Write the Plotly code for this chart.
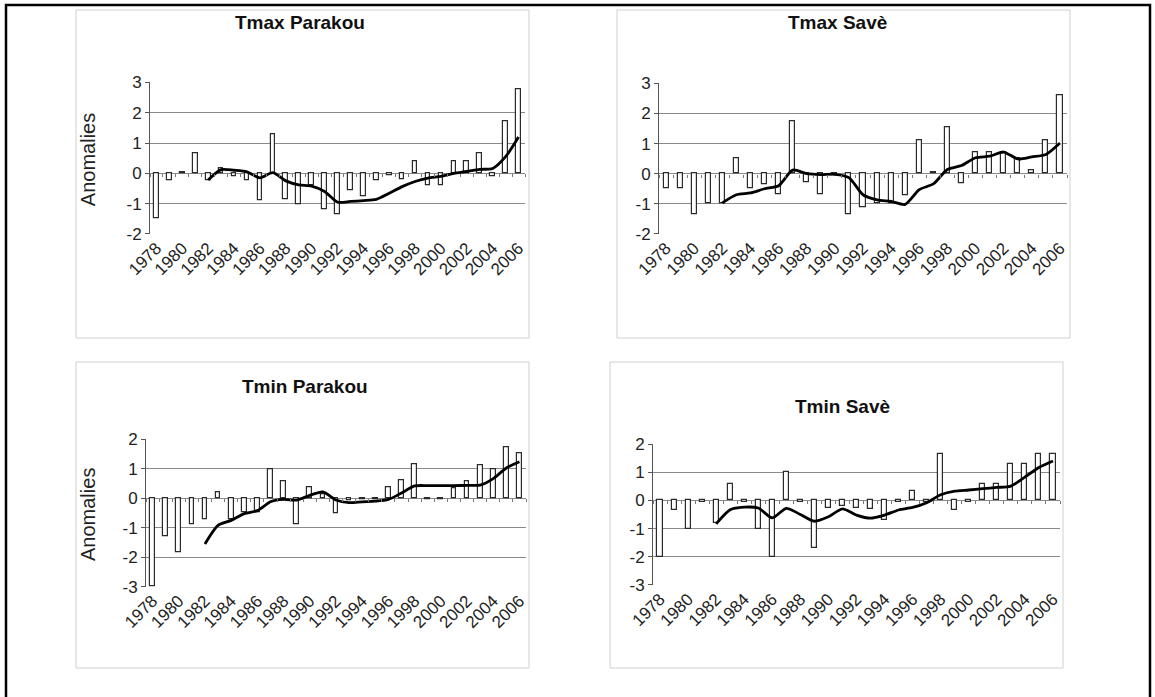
import plotly.graph_objects as go

W, H = 1155, 697

years = list(range(1978, 2007))
ma_years = list(range(1982, 2007))
tick_years = list(range(1978, 2007, 2))
tick_labels = [str(y) for y in tick_years]

tmax_parakou = [-1.48, -0.24, 0.03, 0.66, -0.24, 0.16, -0.11, -0.24, -0.88, 1.3,
                -0.86, -1.01, -0.38, -1.2, -1.34, -0.55, -0.75, -0.22, -0.05, -0.2,
                0.4, -0.38, -0.38, 0.38, 0.38, 0.67, -0.09, 1.73, 2.78]
tmax_parakou_ma = [-0.22, 0.12, 0.1, 0.05, -0.15, 0.02, -0.25, -0.38, -0.42, -0.6,
                   -0.95, -0.93, -0.9, -0.86, -0.66, -0.44, -0.27, -0.16, -0.1, 0.0,
                   0.06, 0.13, 0.16, 0.55, 1.2]

tmax_save = [-0.5, -0.5, -1.35, -1.0, -1.0, 0.5, -0.47, -0.35, -0.7, 1.75,
             -0.3, -0.7, -0.05, -1.35, -1.1, -0.97, -0.97, -0.73, 1.1, 0.05,
             1.55, -0.33, 0.7, 0.7, 0.7, 0.5, 0.1, 1.1, 2.6]
tmax_save_ma = [-0.97, -0.7, -0.64, -0.5, -0.4, 0.12, 0.0, -0.03, -0.02, -0.13,
                -0.7, -0.87, -0.92, -1.02, -0.53, -0.34, 0.14, 0.27, 0.53, 0.58,
                0.72, 0.49, 0.56, 0.64, 1.02]

tmin_parakou = [-3.0, -1.3, -1.85, -0.9, -0.72, 0.2, -0.72, -0.46, -0.46, 1.0,
                0.57, -0.9, 0.37, 0.12, -0.5, -0.06, -0.05, -0.05, 0.37, 0.6,
                1.15, -0.02, -0.02, 0.35, 0.59, 1.13, 0.98, 1.72, 1.53]
tmin_parakou_ma = [-1.55, -0.92, -0.75, -0.52, -0.42, -0.12, -0.04, -0.06, 0.1, 0.22,
                   -0.06, -0.15, -0.12, -0.1, -0.04, 0.18, 0.42, 0.43, 0.43, 0.43,
                   0.44, 0.45, 0.67, 1.03, 1.24]

tmin_save = [-2.0, -0.35, -1.0, -0.05, -0.8, 0.6, -0.05, -1.0, -2.0, 1.0,
             -0.05, -1.7, -0.27, -0.2, -0.27, -0.32, -0.68, -0.05, 0.32, -0.04,
             1.66, -0.35, -0.05, 0.6, 0.58, 1.28, 1.28, 1.66, 1.66]
tmin_save_ma = [-0.83, -0.33, -0.24, -0.27, -0.62, -0.28, -0.5, -0.74, -0.58, -0.3,
                -0.52, -0.63, -0.52, -0.34, -0.25, -0.08, 0.2, 0.33, 0.37, 0.42,
                0.46, 0.51, 0.83, 1.17, 1.4]

titles = ["Tmax Parakou", "Tmax Savè", "Tmin Parakou", "Tmin Savè"]
bars = [tmax_parakou, tmax_save, tmin_parakou, tmin_save]
mas = [tmax_parakou_ma, tmax_save_ma, tmin_parakou_ma, tmin_save_ma]
yranges = [(-2, 3), (-2, 3), (-3, 2), (-3, 2)]

# plot-area pixel boxes: (left, right, top, bottom)
boxes = [(150, 525, 82.3, 234), (659, 1067, 83.3, 234),
         (146, 526, 439.3, 586.7), (653, 1060, 444, 585)]
# chart-area frames (light gray)
frames = [(76, 529, 10, 338), (617, 1070, 10, 338),
          (76, 529, 362, 668), (610, 1063, 362, 668)]
title_pos = [(300, 22), (838, 22), (305, 386), (842, 406)]
show_ytitle = [True, False, True, False]

FONT = "Liberation Sans, Arial, sans-serif"
GRID = "#8a8a8a"

def px(x):
    return x / W

def py(y):
    return 1 - y / H

fig = go.Figure()
layout = dict(width=W, height=H,
              margin=dict(l=0, r=0, t=0, b=0, pad=0, autoexpand=False),
              plot_bgcolor="white", paper_bgcolor="white", showlegend=False,
              bargap=0, font=dict(family=FONT, color="#222"))
annotations = []
shapes = []

for i in range(4):
    n = i + 1
    xa = "x" if n == 1 else f"x{n}"
    ya = "y" if n == 1 else f"y{n}"
    xk = "xaxis" if n == 1 else f"xaxis{n}"
    yk = "yaxis" if n == 1 else f"yaxis{n}"
    l, r, t, b = boxes[i]
    y0, y1 = yranges[i]
    yt = list(range(y0, y1 + 1))

    fig.add_trace(go.Bar(x=years, y=bars[i], width=0.36, xaxis=xa, yaxis=ya,
                         marker=dict(color="white", line=dict(color="#2a2a2a", width=1.2)),
                         hoverinfo="x+y"))
    fig.add_trace(go.Scatter(x=ma_years, y=mas[i], xaxis=xa, yaxis=ya, mode="lines",
                             line=dict(color="black", width=2.8, shape="spline", smoothing=0.7)))

    layout[xk] = dict(domain=[px(l), px(r)], anchor=ya, range=[1977.5, 2006.5],
                      tickmode="array", tickvals=tick_years, ticktext=tick_labels,
                      tickangle=-45, tickfont=dict(size=17, family=FONT, color="#222"),
                      showgrid=False, showline=False, zeroline=False, ticks="",
                      automargin=False)
    layout[yk] = dict(domain=[py(b), py(t)], anchor=xa, range=[y0 - 0.004, y1 + 0.004],
                      tickmode="array", tickvals=yt, ticktext=[str(v) for v in yt],
                      showgrid=True, gridcolor=GRID, gridwidth=1,
                      showline=True, linecolor="#555", linewidth=1,
                      ticks="outside", ticklen=4, tickcolor="#555",
                      tickfont=dict(size=17, family=FONT, color="#222"), zeroline=False,
                      automargin=False)

    # small category tick marks along the zero line
    mk = f"xaxis{n + 4}"
    ma_ax = f"x{n + 4}"
    zero_frac = py(b) + (0 - y0) / (y1 - y0) * (py(t) - py(b))
    layout[mk] = dict(domain=[px(l), px(r)], anchor="free", overlaying=xa,
                      position=zero_frac, range=[1977.5, 2006.5],
                      tickmode="linear", tick0=1977.5, dtick=1, ticks="outside",
                      ticklen=3, tickcolor="#777", showticklabels=False,
                      showgrid=False, showline=False, zeroline=False, automargin=False)
    fig.add_trace(go.Scatter(x=[years[0]], y=[0], xaxis=ma_ax, yaxis=ya, mode="markers",
                             marker=dict(opacity=0), hoverinfo="skip"))

    tx, ty = title_pos[i]
    annotations.append(dict(text=f"<b>{titles[i]}</b>", x=px(tx), y=py(ty), xref="paper",
                            yref="paper", showarrow=False,
                            font=dict(size=19, family=FONT, color="#111"),
                            xanchor="center", yanchor="middle"))
    if show_ytitle[i]:
        annotations.append(dict(text="Anomalies", x=px(88), y=py((t + b) / 2 + 2),
                                xref="paper", yref="paper", showarrow=False,
                                textangle=-90, font=dict(size=20, family=FONT, color="#222"),
                                xanchor="center", yanchor="middle"))
    fl, fr, ft, fb = frames[i]
    shapes.append(dict(type="rect", xref="paper", yref="paper",
                       x0=px(fl), x1=px(fr), y0=py(fb), y1=py(ft),
                       line=dict(color="#d0d0d0", width=1), layer="below"))

# outer black frame
shapes.append(dict(type="rect", xref="paper", yref="paper",
                   x0=px(6), x1=px(1150), y0=py(702), y1=py(5),
                   line=dict(color="black", width=2.5)))

layout["annotations"] = annotations
layout["shapes"] = shapes
fig.update_layout(**layout)
fig.write_html("out.html", config={"displayModeBar": False},
               post_script="document.body.style.margin='0px';document.body.style.overflow='hidden';")
